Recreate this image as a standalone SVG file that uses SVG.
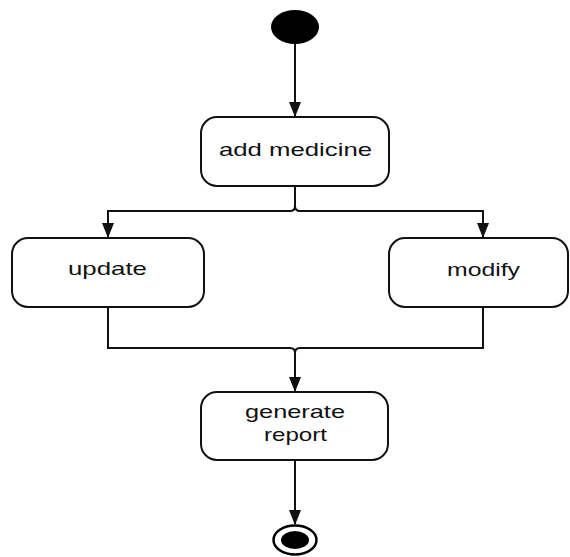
<svg xmlns="http://www.w3.org/2000/svg" width="570" height="557" viewBox="0 0 570 557">
<defs>
<style>
.box{fill:#fff;stroke:#111;stroke-width:2}
.ln{fill:none;stroke:#111;stroke-width:2}
.t{font-family:"Liberation Sans",Arial,sans-serif;font-size:18.5px;fill:#111}
</style>
<marker id="ah" markerWidth="15" markerHeight="12" refX="14" refY="6" orient="auto" markerUnits="userSpaceOnUse" viewBox="0 0 15 12">
<path d="M0,0 L15,6 L0,12 z" fill="#111"/>
</marker>
</defs>
<rect width="570" height="557" fill="#fff"/>
<g id="connectors">
<path class="ln" d="M295,44 V116" marker-end="url(#ah)"/>
<path class="ln" d="M295,186 V206 Q295,211 290,211 H108 V237" marker-end="url(#ah)"/>
<path class="ln" d="M295,206 Q295,211 300,211 H483 V237" marker-end="url(#ah)"/>
<path class="ln" d="M108,307 V348 H290 Q295,348 295,353 V391" marker-end="url(#ah)"/>
<path class="ln" d="M483,307 V348 H300 Q295,348 295,353"/>
<path class="ln" d="M295,460 V524" marker-end="url(#ah)"/>
</g>
<g id="start">
<ellipse cx="295" cy="27" rx="24" ry="17" fill="#000"/>
</g>
<g id="add-medicine">
<rect class="box" x="201" y="117" width="188" height="69" rx="16"/>
<text class="t" x="219" y="156" textLength="153" lengthAdjust="spacingAndGlyphs">add medicine</text>
</g>
<g id="update">
<rect class="box" x="12" y="238" width="192" height="69" rx="16"/>
<text class="t" x="68" y="275" textLength="79" lengthAdjust="spacingAndGlyphs">update</text>
</g>
<g id="modify">
<rect class="box" x="389" y="238" width="179" height="69" rx="16"/>
<text class="t" x="447" y="276" textLength="73" lengthAdjust="spacingAndGlyphs">modify</text>
</g>
<g id="generate-report">
<rect class="box" x="201" y="392" width="187" height="68" rx="16"/>
<text class="t" x="245" y="418" textLength="100" lengthAdjust="spacingAndGlyphs">generate</text>
<text class="t" x="264" y="441" textLength="63" lengthAdjust="spacingAndGlyphs">report</text>
</g>
<g id="end">
<ellipse cx="295" cy="540" rx="21.5" ry="14.5" fill="#fff" stroke="#000" stroke-width="2.5"/>
<ellipse cx="295" cy="540" rx="14" ry="9" fill="#000"/>
</g>
</svg>
